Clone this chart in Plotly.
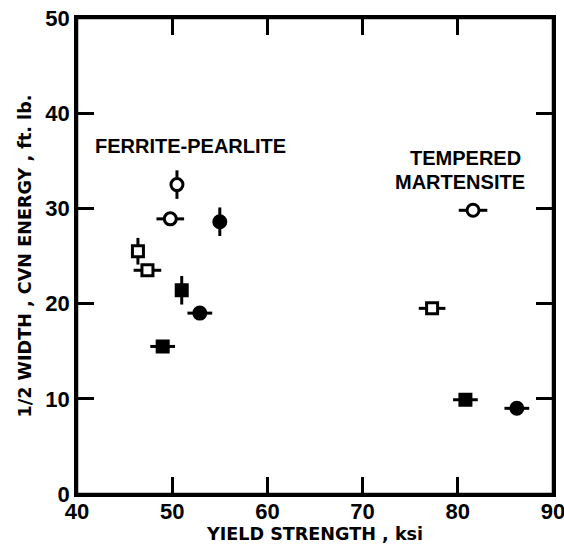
import plotly.graph_objects as go

# Open circles
oc_x = [50.5, 49.8, 81.6]
oc_y = [32.5, 28.9, 29.8]
oc_xerr = [0.0, 1.45, 1.5]
oc_yerr = [1.5, 0.0, 0.0]

# Filled circles
fc_x = [55.0, 52.9, 86.2]
fc_y = [28.6, 19.0, 9.0]
fc_xerr = [0.0, 1.3, 1.3]
fc_yerr = [1.5, 0.0, 0.0]

# Open squares
os_x = [46.4, 47.4, 77.3]
os_y = [25.5, 23.5, 19.5]
os_xerr = [0.0, 1.45, 1.4]
os_yerr = [1.4, 0.0, 0.0]

# Filled squares
fs_x = [51.0, 49.0, 80.8]
fs_y = [21.4, 15.5, 9.9]
fs_xerr = [0.0, 1.3, 1.3]
fs_yerr = [1.5, 0.0, 0.0]

x_ticks = [40, 50, 60, 70, 80, 90]
y_ticks = [0, 10, 20, 30, 40, 50]

TICK_FONT = dict(family="Liberation Sans", size=22, color="black", weight="bold")
TITLE_FONT = dict(family="DejaVu Sans", size=17.6, color="black", weight="bold")
ANN_FONT = dict(family="Liberation Sans", size=20, color="black", weight="bold")


def trace(x, y, xe, ye, symbol, fill, size):
    return go.Scatter(
        x=x, y=y, mode="markers",
        marker=dict(symbol=symbol, size=size, color=fill,
                    line=dict(color="black", width=3)),
        error_x=dict(type="data", array=xe, visible=True, width=0,
                     thickness=3, color="black"),
        error_y=dict(type="data", array=ye, visible=True, width=0,
                     thickness=3, color="black"),
        showlegend=False, hoverinfo="skip",
    )


fig = go.Figure()
fig.add_trace(trace(oc_x, oc_y, oc_xerr, oc_yerr, "circle", "white", 12))
fig.add_trace(trace(fc_x, fc_y, fc_xerr, fc_yerr, "circle", "black", 12))
fig.add_trace(trace(os_x, os_y, os_xerr, os_yerr, "square", "white", 11))
fig.add_trace(trace(fs_x, fs_y, fs_xerr, fs_yerr, "square", "black", 11))

fig.add_annotation(x=51.9, y=36.6, text="FERRITE-PEARLITE", showarrow=False,
                   font=ANN_FONT, xanchor="center", yanchor="middle")
fig.add_annotation(x=80.8, y=35.3, text="TEMPERED", showarrow=False,
                   font=ANN_FONT, xanchor="center", yanchor="middle")
fig.add_annotation(x=80.2, y=32.8, text="MARTENSITE", showarrow=False,
                   font=ANN_FONT, xanchor="center", yanchor="middle")

# full frame around the plot area
fig.add_shape(type="rect", xref="paper", yref="paper", x0=0, x1=1, y0=0, y1=1,
              line=dict(color="black", width=2.5), fillcolor="rgba(0,0,0,0)",
              layer="above")

axis_common = dict(
    showgrid=False, zeroline=False, showline=True, linecolor="black",
    linewidth=2.5, mirror="allticks", ticks="inside", ticklen=17,
    tickwidth=2.5, tickcolor="black", tickfont=TICK_FONT, automargin=False,
    ticklabeloverflow="allow",
)

fig.update_layout(
    xaxis=dict(range=[40, 90], tickvals=x_ticks,
               ticktext=[str(v) for v in x_ticks],
               title=dict(text="YIELD STRENGTH , ksi", font=TITLE_FONT,
                          standoff=0),
               ticklabelstandoff=-4, **axis_common),
    yaxis=dict(range=[0, 50], tickvals=y_ticks,
               ticktext=[str(v) for v in y_ticks],
               title=dict(text="1/2 WIDTH , CVN ENERGY , ft. lb.",
                          font=TITLE_FONT, standoff=10),
               ticklabelstandoff=0, **axis_common),
    width=564, height=554,
    margin=dict(l=77, r=11, t=18, b=60, autoexpand=False),
    paper_bgcolor="white", plot_bgcolor="white",
)

# remove the browser's default 8px body margin so the figure fills the window
fig.write_html("out.html",
               config={"displayModeBar": False},
               post_script="document.body.style.margin='0px';"
                           "document.body.style.overflow='hidden';")
